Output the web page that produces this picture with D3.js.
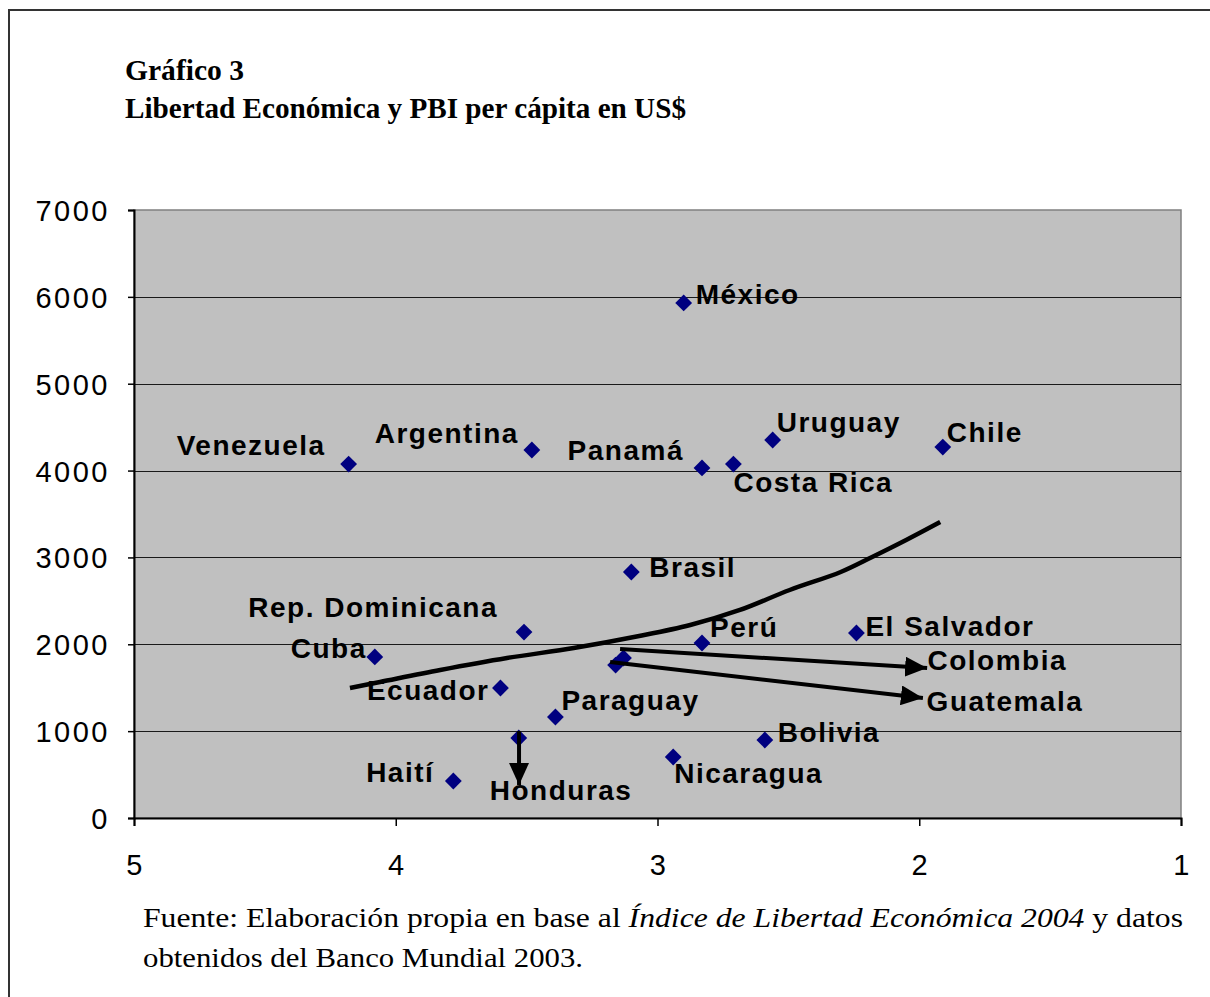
<!DOCTYPE html>
<html>
<head>
<meta charset="utf-8">
<script src="https://cdn.jsdelivr.net/npm/d3@7/dist/d3.min.js"></script>
<style>
  html, body { margin: 0; padding: 0; background: #fff; }
  svg { display: block; }
  .lbl { font-family: Arial, "Liberation Sans", sans-serif; font-weight: bold; font-size: 28px; letter-spacing: 1.5px; fill: #000; }
  .tick-lbl { font-family: Arial, "Liberation Sans", sans-serif; font-size: 29px; letter-spacing: 2.5px; fill: #000; }
  .ttl { font-family: "Times New Roman", "Liberation Serif", serif; font-weight: bold; font-size: 30px; fill: #000; }
  .src { font-family: "Times New Roman", "Liberation Serif", serif; font-size: 27px; fill: #000; }
</style>
</head>
<body>
<svg id="chart" width="1210" height="997"></svg>
<script>
// Gráfico 3 — libertad económica (índice, eje invertido) vs PBI per cápita

// countries, index score (x) and GDP per capita US$ (y)
const countries = ["México", "Venezuela", "Argentina", "Panamá", "Costa Rica", "Uruguay", "Chile",
  "Brasil", "Rep. Dominicana", "Cuba", "Perú", "El Salvador", "Colombia", "Guatemala",
  "Ecuador", "Paraguay", "Honduras", "Haití", "Nicaragua", "Bolivia"];
const freedomIndex = [2.90, 4.18, 3.48, 2.83, 2.71, 2.56, 1.91,
  3.10, 3.51, 4.08, 2.83, 2.24, 3.13, 3.16,
  3.60, 3.39, 3.53, 3.78, 2.94, 2.59];
const gdpPerCapita = [5930, 4075, 4237, 4030, 4075, 4352, 4271,
  2832, 2141, 1854, 2015, 2130, 1842, 1761,
  1497, 1163, 921, 426, 702, 898];

// hand-drawn trend line as it appears on the chart (index, US$)
const trendX = [4.175, 4.06, 3.83, 3.575, 3.32, 3.07, 2.875, 2.685, 2.495, 2.30, 2.18, 2.05, 1.92];
const trendY = [1497, 1566, 1704, 1842, 1957, 2095, 2222, 2395, 2625, 2832, 3005, 3201, 3408];

// arrows pointing to labels placed away from their points (x0, y0, x1, y1)
const arrows = [
  [3.143, 1946, 1.97, 1727],   // Colombia
  [3.181, 1796, 1.986, 1382],  // Guatemala
  [3.529, 1002, 3.529, 380]    // Honduras
];

const xTicks = [5, 4, 3, 2, 1];
const yTicks = [0, 1000, 2000, 3000, 4000, 5000, 6000, 7000];

// label placement: [dx, dy, anchor] in pixels relative to the point
const labelPlace = {
  "México": [12, 1, "start"],
  "Venezuela": [-23, -9, "end"],
  "Argentina": [-13, -7, "end"],
  "Panamá": [-18, -8, "end"],
  "Costa Rica": [0, 28, "start"],
  "Uruguay": [4, -8, "start"],
  "Chile": [4, -5, "start"],
  "Brasil": [18, 5, "start"],
  "Rep. Dominicana": [-26, -15, "end"],
  "Cuba": [-8, 1, "end"],
  "Perú": [8, -6, "start"],
  "El Salvador": [9, 3, "start"],
  "Colombia": [304, 12, "start"],
  "Guatemala": [311, 46, "start"],
  "Ecuador": [-11, 12, "end"],
  "Paraguay": [6, -7, "start"],
  "Honduras": [-29, 62, "start"],
  "Haití": [-19, 1, "end"],
  "Nicaragua": [1, 26, "start"],
  "Bolivia": [13, 2, "start"]
};

const svg = d3.select("#chart");
const plotL = 134, plotR = 1181, plotT = 210, plotB = 818;

const x = d3.scaleLinear().domain([5, 1]).range([plotL, plotR]);
const y = d3.scaleLinear().domain([0, 7000]).range([plotB, plotT]);

// outer frame
svg.append("rect")
  .attr("x", 9).attr("y", 10).attr("width", 1230).attr("height", 1020)
  .attr("fill", "none").attr("stroke", "#333").attr("stroke-width", 2);

// titles
svg.append("text").attr("class", "ttl").attr("x", 125).attr("y", 80)
  .attr("textLength", 119).attr("lengthAdjust", "spacingAndGlyphs").text("Gráfico 3");
svg.append("text").attr("class", "ttl").attr("x", 125).attr("y", 118)
  .attr("textLength", 561).attr("lengthAdjust", "spacingAndGlyphs")
  .text("Libertad Económica y PBI per cápita en US$");

// plot area
svg.append("rect")
  .attr("x", plotL).attr("y", plotT).attr("width", plotR - plotL).attr("height", plotB - plotT)
  .attr("fill", "#c0c0c0").attr("stroke", "#808080").attr("stroke-width", 1.5);

// gridlines
svg.append("g").selectAll("line").data(yTicks.filter((d) => d > 0 && d < 7000)).join("line")
  .attr("x1", plotL).attr("x2", plotR)
  .attr("y1", (d) => Math.round(y(d)) + 0.5).attr("y2", (d) => Math.round(y(d)) + 0.5)
  .attr("stroke", "#1a1a1a").attr("stroke-width", 1);

// axes
const yAxis = svg.append("g").attr("transform", `translate(${plotL},0)`)
  .call(d3.axisLeft(y).tickValues(yTicks).tickSize(6).tickPadding(18).tickFormat(d3.format("d")));
const xAxis = svg.append("g").attr("transform", `translate(0,${plotB})`)
  .call(d3.axisBottom(x).tickValues(xTicks).tickSize(8).tickPadding(28).tickFormat(d3.format("d")));
[yAxis, xAxis].forEach((g) => {
  g.attr("font-size", null).attr("font-family", null);
  g.select(".domain").attr("stroke", "#000").attr("stroke-width", 2);
  g.selectAll(".tick line").attr("stroke", "#000").attr("stroke-width", 1.5);
  g.selectAll(".tick text").attr("class", "tick-lbl");
});
yAxis.selectAll(".tick text").attr("dy", "0.36em");
xAxis.selectAll(".tick text").attr("dy", "0.72em").attr("dx", "1px");

// trend line
const trend = d3.zip(trendX, trendY);
svg.append("path")
  .datum(trend)
  .attr("fill", "none").attr("stroke", "#000").attr("stroke-width", 4.5)
  .attr("stroke-linejoin", "round").attr("stroke-linecap", "butt")
  .attr("d", d3.line().curve(d3.curveCatmullRom).x((d) => x(d[0])).y((d) => y(d[1])));

// points
const pts = countries.map((c, i) => ({ name: c, fx: freedomIndex[i], gdp: gdpPerCapita[i] }));
svg.append("g").selectAll("path").data(pts).join("path")
  .attr("transform", (d) => `translate(${x(d.fx)},${y(d.gdp)})`)
  .attr("d", d3.symbol(d3.symbolDiamond2, 180))
  .attr("fill", "#000080");

// arrows
svg.append("defs").append("marker")
  .attr("id", "head").attr("viewBox", "0 0 10 10").attr("refX", 10).attr("refY", 5)
  .attr("markerWidth", 22).attr("markerHeight", 20).attr("markerUnits", "userSpaceOnUse")
  .attr("orient", "auto").attr("preserveAspectRatio", "none")
  .append("path").attr("d", "M0,0 L10,5 L0,10 Z").attr("fill", "#000");
svg.append("g").selectAll("line").data(arrows).join("line")
  .attr("x1", (d) => x(d[0])).attr("y1", (d) => y(d[1]))
  .attr("x2", (d) => x(d[2])).attr("y2", (d) => y(d[3]))
  .attr("stroke", "#000").attr("stroke-width", 4)
  .attr("marker-end", "url(#head)");

// labels
svg.append("g").selectAll("text").data(pts).join("text")
  .attr("class", "lbl")
  .attr("x", (d) => x(d.fx) + labelPlace[d.name][0])
  .attr("y", (d) => y(d.gdp) + labelPlace[d.name][1])
  .attr("text-anchor", (d) => labelPlace[d.name][2])
  .text((d) => d.name);

// source note
const s1 = svg.append("text").attr("class", "src").attr("x", 143).attr("y", 927)
  .attr("textLength", 1040).attr("lengthAdjust", "spacingAndGlyphs");
s1.append("tspan").text("Fuente: Elaboración propia en base al ");
s1.append("tspan").attr("font-style", "italic").text("Índice de Libertad Económica 2004");
s1.append("tspan").text("  y datos");
svg.append("text").attr("class", "src").attr("x", 143).attr("y", 967)
  .attr("textLength", 440).attr("lengthAdjust", "spacingAndGlyphs")
  .text("obtenidos del Banco Mundial 2003.");
</script>
</body>
</html>
